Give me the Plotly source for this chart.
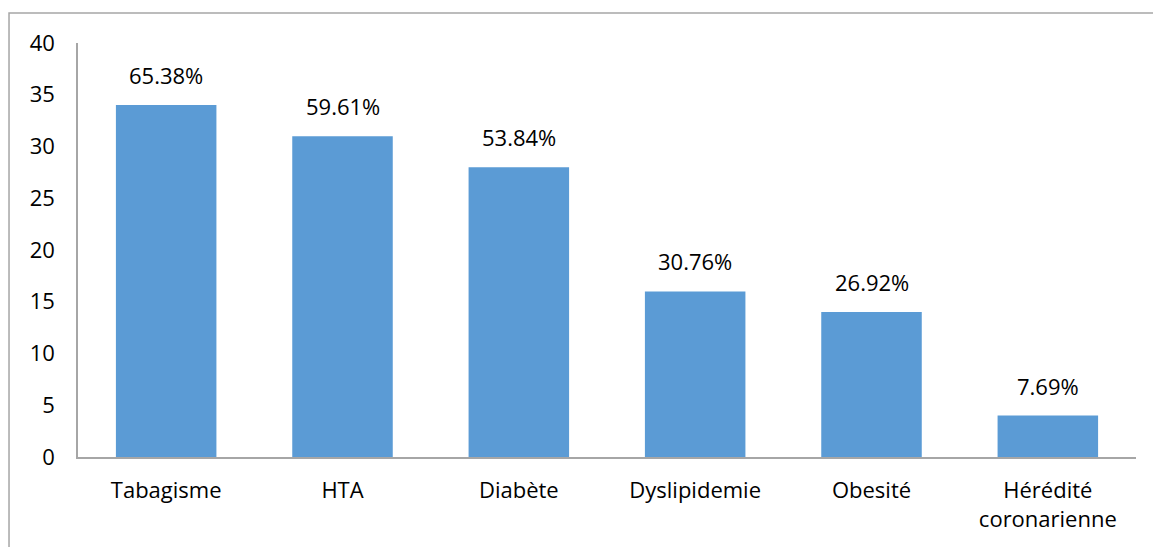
import plotly.graph_objects as go

categories = ["Tabagisme", "HTA", "Diabète", "Dyslipidemie", "Obesité", "Hérédité<br>coronarienne"]
values = [34, 31, 28, 16, 14, 4]
labels = ["65.38%", "59.61%", "53.84%", "30.76%", "26.92%", "7.69%"]
y_ticks = [0, 5, 10, 15, 20, 25, 30, 35, 40]

FONT = "Open Sans"
FS = 22
fig = go.Figure()
fig.add_trace(go.Bar(x=categories, y=values, marker=dict(color="#5B9BD5", line=dict(width=0)), width=0.57))

for c, v, t in zip(categories, values, labels):
    fig.add_annotation(x=c, y=v, text=t, showarrow=False, yanchor="bottom", yshift=13,
                       font=dict(family=FONT, size=FS, color="#000"))

fig.add_shape(type="rect", xref="paper", yref="paper", x0=-0.0652, x1=1.2, y0=-0.5, y1=1.0725,
              line=dict(color="#A6A6A6", width=1.5), fillcolor="rgba(0,0,0,0)", layer="below")

fig.update_layout(
    width=1153, height=547,
    margin=dict(l=78, r=17, t=43, b=90),
    plot_bgcolor="white", paper_bgcolor="white",
    showlegend=False,
    bargap=0.43,
    font=dict(family=FONT, size=FS, color="#000"),
    xaxis=dict(showline=True, linecolor="#A6A6A6", linewidth=1.5, ticks="", showgrid=False,
               ticklabelstandoff=13, tickfont=dict(family=FONT, size=FS)),
    yaxis=dict(range=[0, 40], tickvals=y_ticks, showline=True, linecolor="#A6A6A6", linewidth=1.5,
               ticks="", showgrid=False, zeroline=False, ticklabelstandoff=17,
               tickfont=dict(family=FONT, size=FS)),
)
fig.write_html("out.html")
